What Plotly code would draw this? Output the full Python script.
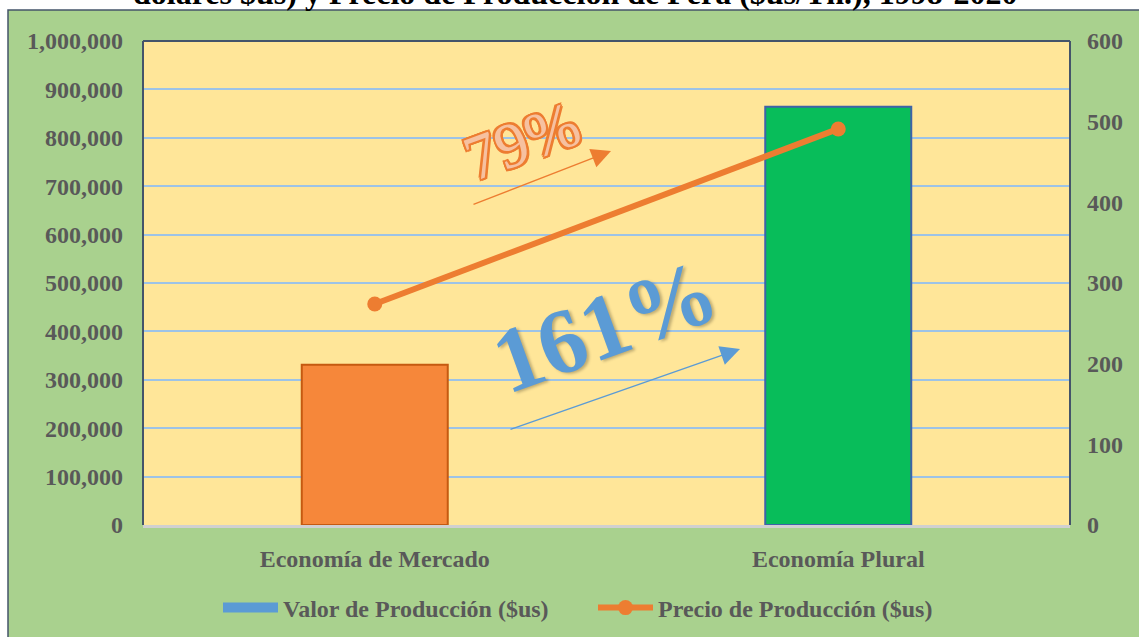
import plotly.graph_objects as go

categorias = ["Economía de Mercado", "Economía Plural"]
valor_produccion = [331000, 864000]
precio_produccion = [274, 491]
left_ticks = [0, 100000, 200000, 300000, 400000, 500000, 600000, 700000, 800000, 900000, 1000000]
right_ticks = [0, 100, 200, 300, 400, 500, 600]
bar_colors = ["#f6873a", "#08bd5a"]
bar_lines = ["#c55a11", "#3f62a8"]

W, H = 1139, 637
L, R, T, B = 143, 1070, 41, 525


def px_x(x):
    return (x - L) / (R - L)


def px_y(y):
    return (B - y) / (B - T)


FONT = "Liberation Serif"
GRAY = "#595959"

fig = go.Figure()

fig.add_trace(go.Bar(
    x=categorias, y=valor_produccion, width=0.315,
    marker=dict(color=bar_colors, line=dict(color=bar_lines, width=2)),
    showlegend=False, yaxis="y", name="Valor de Producción ($us)",
))
fig.add_trace(go.Scatter(
    x=[None], y=[None], mode="lines", name="Valor de Producción ($us)",
    line=dict(color="#5b9bd5", width=10), showlegend=True, yaxis="y",
))
fig.add_trace(go.Scatter(
    x=categorias, y=precio_produccion, mode="lines+markers", yaxis="y2",
    name="Precio de Producción ($us)",
    line=dict(color="#ed7d31", width=6),
    marker=dict(color="#ed7d31", size=15),
))

shapes = [
    # green chart frame
    dict(type="rect", xref="paper", yref="paper", x0=px_x(8), x1=px_x(1150),
         y0=px_y(650), y1=px_y(10), fillcolor="#a9d18e",
         line=dict(color="#44546a", width=1.5), layer="below"),
    # plot area background
    dict(type="rect", xref="paper", yref="paper", x0=0, x1=1, y0=0, y1=1,
         fillcolor="#ffe699", line=dict(width=0), layer="below"),
    # plot area border (left, top, right)
    dict(type="line", xref="paper", yref="paper", x0=0, x1=0, y0=0, y1=1,
         line=dict(color="#44546a", width=2)),
    dict(type="line", xref="paper", yref="paper", x0=0, x1=1, y0=1, y1=1,
         line=dict(color="#44546a", width=2)),
    dict(type="line", xref="paper", yref="paper", x0=1, x1=1, y0=0, y1=1,
         line=dict(color="#44546a", width=2)),
]

annotations = [
    dict(text="<b>dolares $us) y Precio de Producción de Pera ($us/Tn.), 1998-2020</b>",
         xref="paper", yref="paper", x=px_x(575), y=px_y(13), xanchor="center", yanchor="bottom",
         showarrow=False, font=dict(family=FONT, size=32, color="#000000")),
    dict(text="79%", xref="paper", yref="paper", x=px_x(521), y=px_y(141),
         xanchor="center", yanchor="middle",
         showarrow=False, textangle=-20,
         font=dict(family=FONT, size=64, color="#f6c1a0",
                   shadow="-2px -2px 0 #ed7d31, 2px -2px 0 #ed7d31, -2px 2px 0 #ed7d31, 2px 2px 0 #ed7d31, 0 2px 0 #ed7d31, 0 -2px 0 #ed7d31, 2px 0 0 #ed7d31, -2px 0 0 #ed7d31")),
    dict(text="<b>161%</b>", xref="paper", yref="paper", x=px_x(605), y=px_y(326),
         xanchor="center", yanchor="middle",
         showarrow=False, textangle=-20,
         font=dict(family=FONT, size=92, color="#5b9bd5",
                   shadow="2px 2px 3px rgba(0,0,0,0.25)")),
    dict(text="", xref="paper", yref="paper", x=px_x(611), y=px_y(151),
         ax=472 - 611, ay=205 - 151, showarrow=True, arrowhead=2, arrowsize=3,
         arrowwidth=1.3, arrowcolor="#ed7d31", standoff=0),
    dict(text="", xref="paper", yref="paper", x=px_x(740), y=px_y(349),
         ax=509 - 740, ay=430 - 349, showarrow=True, arrowhead=2, arrowsize=3,
         arrowwidth=1.3, arrowcolor="#5b9bd5", standoff=0),
]

tickfont = dict(family=FONT, size=24, color=GRAY, weight="bold")

fig.update_layout(
    width=W, height=H,
    margin=dict(l=L, r=W - R, t=T, b=H - B, pad=0, autoexpand=False),
    paper_bgcolor="#ffffff",
    plot_bgcolor="rgba(0,0,0,0)",
    shapes=shapes,
    annotations=annotations,
    xaxis=dict(type="category", showgrid=False, showline=True, linecolor="#d0d0d0", linewidth=3,
               tickfont=dict(family=FONT, size=24, color=GRAY, weight="bold"),
               ticks="", ticklabelstandoff=10, range=[-0.5, 1.5], fixedrange=True),
    yaxis=dict(range=[0, 1000000], tickvals=left_ticks, tickformat=",d",
               showgrid=True, gridcolor="#9dc3e6", gridwidth=2, zeroline=False,
               tickfont=tickfont, ticks="", ticklabelstandoff=19, showline=False),
    yaxis2=dict(range=[0, 600], tickvals=right_ticks, overlaying="y", side="right",
                showgrid=False, zeroline=False, tickfont=tickfont, ticks="",
                ticklabelstandoff=16, showline=False),
    legend=dict(orientation="h", x=px_x(218), y=px_y(608), xanchor="left", yanchor="middle",
                font=dict(family=FONT, size=24, color=GRAY, weight="bold"),
                bgcolor="rgba(0,0,0,0)", itemwidth=55, entrywidth=305, entrywidthmode="pixels",
                traceorder="normal"),
)

fig.write_html("out.html", post_script="document.body.style.margin='0';",
               config={"displayModeBar": False})
